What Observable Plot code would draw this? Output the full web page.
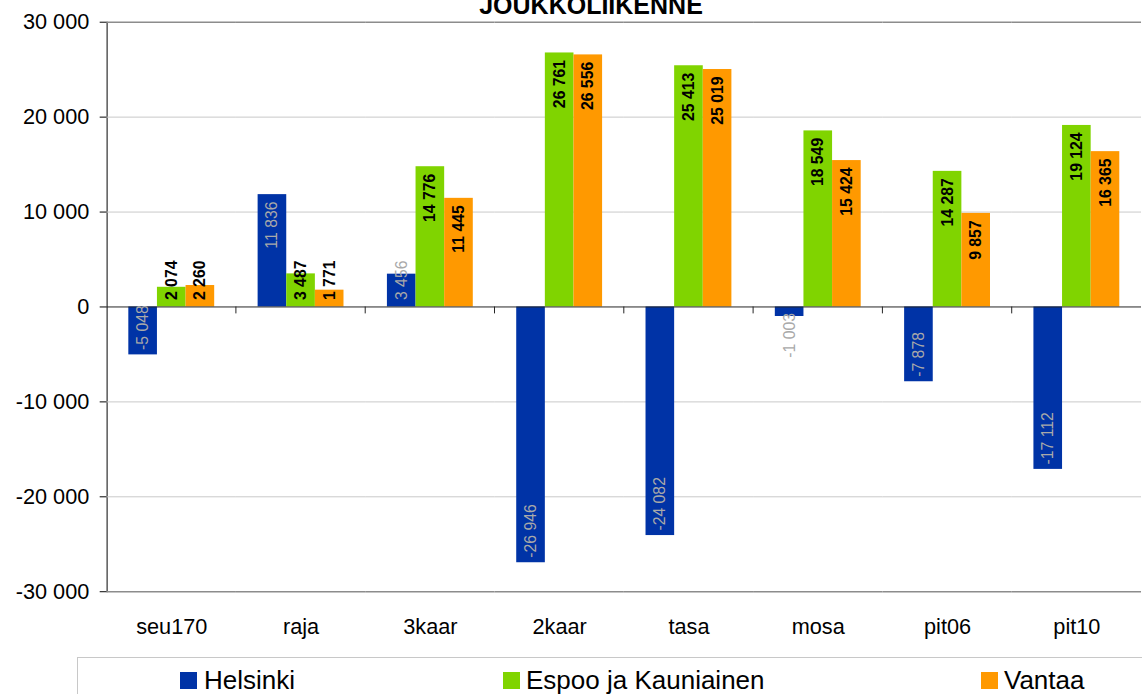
<!DOCTYPE html>
<html>
<head>
<meta charset="utf-8">
<script src="https://cdn.jsdelivr.net/npm/d3@7"></script>
<script src="https://cdn.jsdelivr.net/npm/@observablehq/plot@0.6"></script>
<style>
  html, body { margin: 0; padding: 0; background: #fff; overflow: hidden; }
  body { width: 1142px; height: 694px; position: relative; font-family: "Liberation Sans", Arial, sans-serif; }
  #title { position: absolute; left: 391px; width: 400px; top: -7px; text-align: center; font-size: 25px; line-height: 25px; font-weight: bold; color: #000; z-index: 2; }
  #chart { position: absolute; left: 0; top: 0; }
  #legend { position: absolute; left: 77px; top: 657px; width: 1200px; height: 80px; border: 1px solid #c8c8c8; background: #fff; }
  .item { position: absolute; top: 0; font-size: 26px; line-height: 26px; color: #000; white-space: nowrap; }
  .sw { position: absolute; width: 17px; height: 17px; top: 14px; }
  .lt { position: absolute; top: 9px; }
</style>
</head>
<body>
<div id="title">JOUKKOLIIKENNE</div>
<div id="chart"></div>
<div id="legend"></div>
<script>
const categories = ["seu170", "raja", "3kaar", "2kaar", "tasa", "mosa", "pit06", "pit10"];
const series = ["Helsinki", "Espoo ja Kauniainen", "Vantaa"];
const helsinki = [-5048, 11836, 3456, -26946, -24082, -1003, -7878, -17112];
const espoo = [2074, 3487, 14776, 26761, 25413, 18549, 14287, 19124];
const vantaa = [2260, 1771, 11445, 26556, 25019, 15424, 9857, 16365];
const colors = ["#0033a6", "#80d400", "#ff9900"];
const yTicks = [-30000, -20000, -10000, 0, 10000, 20000, 30000];

const values = [helsinki, espoo, vantaa];
const data = [];
series.forEach((s, j) => categories.forEach((c, i) => data.push({cat: c, series: s, value: values[j][i]})));

const fmt = d3.formatLocale({decimal: ",", thousands: "\u00a0", grouping: [3], currency: ["", ""], minus: "-"}).format(",d");

const T = 4500; // bars shorter than a label get the label from the zero line
function labels(isH) {
  const base = {fx: "cat", x: "series", text: d => fmt(d.value), rotate: -90, fontSize: 16,
    fill: isH ? "#a9a9a9" : "#000", fontWeight: isH ? "normal" : "bold"};
  const sel = d => (d.series === "Helsinki") === isH;
  return [
    Plot.text(data, {...base, filter: d => sel(d) && d.value >= T, y: "value", textAnchor: "end", dy: 7}),
    Plot.text(data, {...base, filter: d => sel(d) && d.value >= 0 && d.value < T, y: () => 0, textAnchor: "start", dy: -7}),
    Plot.text(data, {...base, filter: d => sel(d) && d.value <= -T, y: "value", textAnchor: "start", dy: -5}),
    Plot.text(data, {...base, filter: d => sel(d) && d.value < 0 && d.value > -T, y: () => 0, textAnchor: "end", dy: 6})
  ];
}

const chart = Plot.plot({
  width: 1157,
  height: 659,
  marginLeft: 107,
  marginRight: 0,
  marginTop: 22,
  marginBottom: 60,
  style: {fontFamily: "'Liberation Sans', Arial, sans-serif", fontSize: "22px", color: "#000", background: "#fff", overflow: "visible"},
  fx: {domain: categories, padding: 0, label: null, tickSize: 0, tickPadding: 27, axis: "bottom"},
  x: {domain: series, paddingInner: 0, paddingOuter: 0.758, axis: null},
  y: {domain: [-30000, 30000], ticks: yTicks, tickFormat: fmt, tickSize: 7, tickPadding: 11, line: true, label: null},
  color: {domain: series, range: colors},
  marks: [
    Plot.ruleY(yTicks.filter(v => v !== 0 && Math.abs(v) !== 30000), {stroke: "#c8c8c8", strokeWidth: 1}),
    Plot.ruleY([30000, -30000], {stroke: "#8c8c8c", strokeWidth: 1.5}),
    Plot.barY(data, {fx: "cat", x: "series", y: "value", fill: "series"}),
    Plot.ruleY([0], {stroke: "#222", strokeWidth: 1}),
    ...labels(true),
    ...labels(false)
  ]
});
document.getElementById("chart").appendChild(chart);

// category boundary ticks on the zero line, placed with the plot's own scales
try {
  const fx = chart.scale("fx");
  const y = chart.scale("y");
  const y0 = y.apply(0);
  const svg = d3.select(chart.tagName.toLowerCase() === "svg" ? chart : chart.querySelector("svg"));
  categories.slice(1).forEach(c => {
    const xx = fx.apply(c);
    svg.append("line").attr("x1", xx).attr("x2", xx).attr("y1", y0).attr("y2", y0 + 7)
      .attr("stroke", "#222").attr("stroke-width", 1);
  });
} catch (e) { console.error(e); }

// legend
const legendPos = [[102, 126], [425, 448], [903, 926]];
const legend = document.getElementById("legend");
series.forEach((s, j) => {
  const item = document.createElement("div");
  item.className = "item";
  item.style.left = "0px";
  item.innerHTML = `<span class="sw" style="left:${legendPos[j][0]}px;background:${colors[j]}"></span><span class="lt" style="left:${legendPos[j][1]}px">${s}</span>`;
  legend.appendChild(item);
});
</script>
</body>
</html>
